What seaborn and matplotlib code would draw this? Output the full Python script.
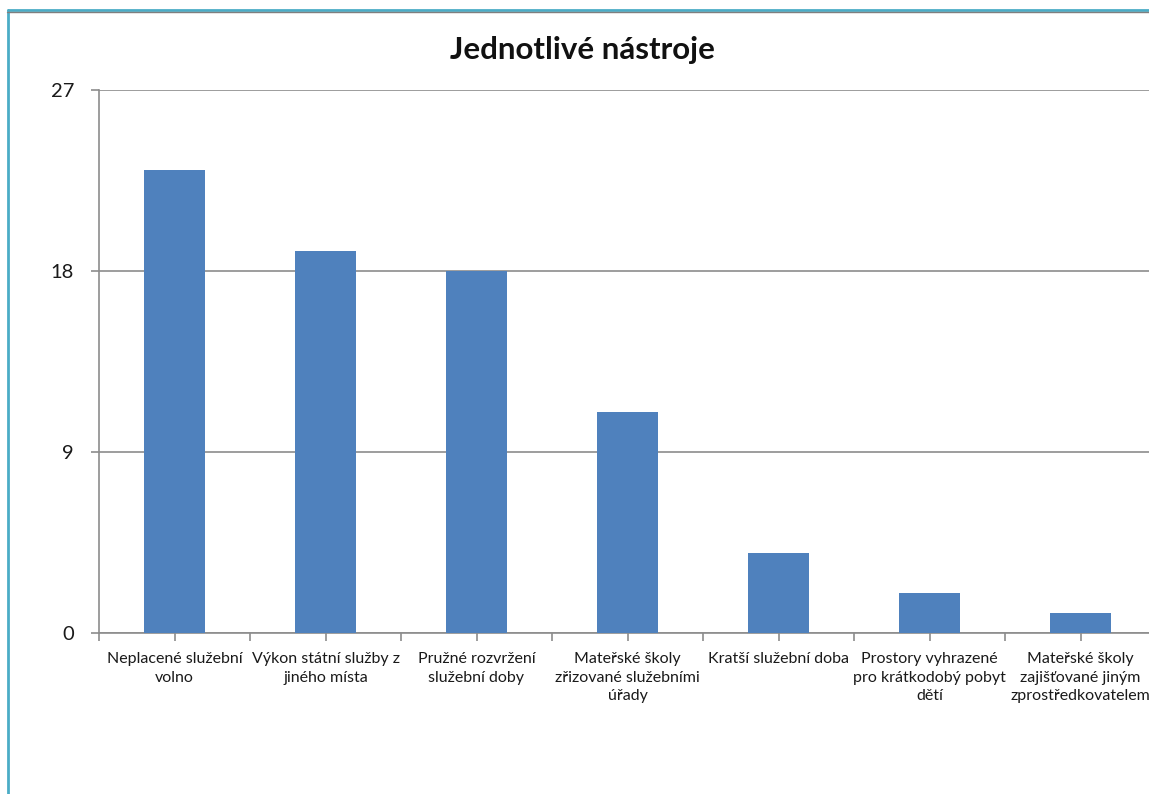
import matplotlib
matplotlib.use('Agg')
import matplotlib.pyplot as plt
import seaborn as sns
import pandas as pd
from matplotlib.lines import Line2D

# data
categories = [
    'Neplacené služební\nvolno',
    'Výkon státní služby z\njiného místa',
    'Pružné rozvržení\nslužební doby',
    'Mateřské školy\nzřizované služebními\núřady',
    'Kratší služební doba',
    'Prostory vyhrazené\npro krátkodobý pobyt\ndětí',
    'Mateřské školy\nzajišťované jiným\nzprostředkovatelem',
]
counts = [23, 19, 18, 11, 4, 2, 1]
y_ticks = [0, 9, 18, 27]

df = pd.DataFrame({'Nastroj': categories, 'Pocet': counts})

sns.set_style('white')
plt.rcParams['font.family'] = ['Lato', 'DejaVu Sans']

fig = plt.figure(figsize=(11.49, 7.94), dpi=100)
ax = fig.add_axes([99 / 1149, 161 / 794, 1057 / 1149, 543 / 794])

sns.barplot(data=df, x='Nastroj', y='Pocet', color='#4F81BD', width=0.4,
            saturation=1, linewidth=0, ax=ax, zorder=3)

ax.set_ylim(0, 27)
ax.set_xlim(-0.5, len(categories) - 0.5)
ax.set_yticks(y_ticks)
ax.set_yticklabels([str(t) for t in y_ticks], fontsize=14.5, color='#1a1a1a')
ax.yaxis.grid(True, color='#8C8C8C', linewidth=1.2, zorder=0)
ax.set_xticks(range(len(categories)))
ax.set_xticklabels(categories, fontsize=11.5, color='#1a1a1a', linespacing=1.4)
ax.set_xticks([i - 0.5 for i in range(len(categories) + 1)], minor=True)
ax.tick_params(axis='x', which='both', length=6, width=1.2, color='#8C8C8C',
               direction='out', pad=8, bottom=True)
ax.tick_params(axis='y', length=6, width=1.2, color='#8C8C8C', pad=12, left=True)
ax.set_xlabel('')
ax.set_ylabel('')
for side in ['top', 'right']:
    ax.spines[side].set_visible(False)
for side in ['left', 'bottom']:
    ax.spines[side].set_color('#8C8C8C')
    ax.spines[side].set_linewidth(1.2)

fig.text(582 / 1149, 1 - 50 / 794, 'Jednotlivé nástroje', ha='center', va='center',
         fontsize=22.5, fontweight='bold', color='#111111')

# chart area frame (left + top visible in the crop)
fig.add_artist(Line2D([8 / 1149, 8 / 1149], [0, 1 - 10 / 794], transform=fig.transFigure,
                      color='#4BACC6', linewidth=2))
fig.add_artist(Line2D([8 / 1149, 1], [1 - 10 / 794, 1 - 10 / 794], transform=fig.transFigure,
                      color='#4BACC6', linewidth=2))
fig.add_artist(Line2D([7 / 1149, 1], [1 - 12 / 794, 1 - 12 / 794], transform=fig.transFigure,
                      color='#7F7F7F', linewidth=1))

fig.savefig('out.png', dpi=100)
